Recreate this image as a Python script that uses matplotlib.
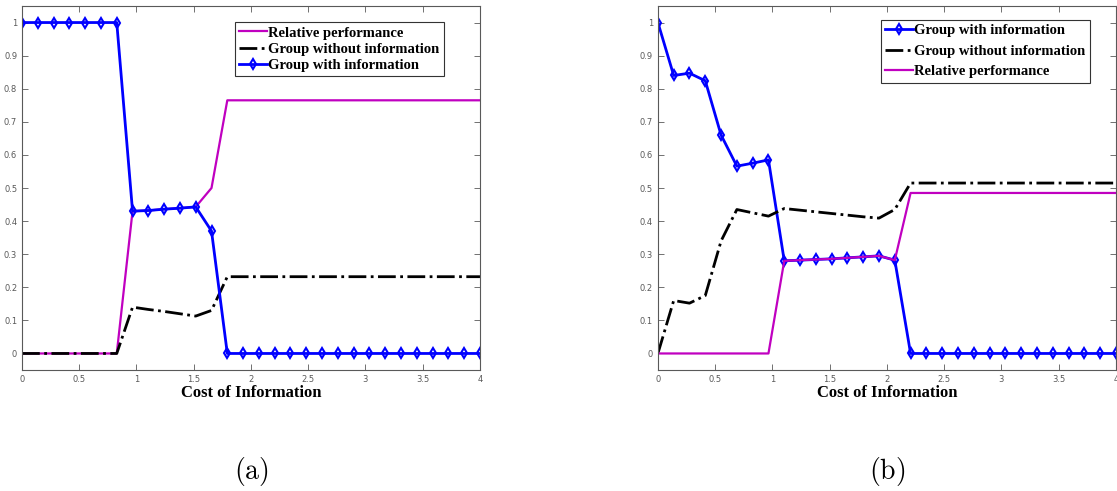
import numpy as np
import matplotlib.pyplot as plt

plt.rcParams['mathtext.fontset'] = 'cm'

# cost of information, 30 samples on [0, 4]
cost = np.linspace(0, 4, 30)

# panel (a)
a_with = [1, 1, 1, 1, 1, 1, 1, 0.43, 0.432, 0.436, 0.439, 0.443, 0.37] + [0] * 17
a_without = [0, 0, 0, 0, 0, 0, 0, 0.14, 0.133, 0.127, 0.12, 0.113, 0.13] + [0.232] * 17
a_rel = [0, 0, 0, 0, 0, 0, 0, 0.43, 0.432, 0.436, 0.439, 0.443, 0.5] + [0.765] * 17

# panel (b)
b_with = [1, 0.84, 0.847, 0.824, 0.66, 0.566, 0.575, 0.585, 0.28, 0.282, 0.284,
          0.286, 0.289, 0.292, 0.295, 0.282] + [0] * 14
b_without = [0, 0.16, 0.152, 0.175, 0.34, 0.435, 0.425, 0.415, 0.438, 0.433, 0.428,
             0.423, 0.418, 0.413, 0.409, 0.435] + [0.515] * 14
b_rel = [0, 0, 0, 0, 0, 0, 0, 0, 0.28, 0.282, 0.284,
         0.286, 0.289, 0.292, 0.295, 0.282] + [0.485] * 14

xticks = [0, 0.5, 1, 1.5, 2, 2.5, 3, 3.5, 4]
yticks = [0, 0.1, 0.2, 0.3, 0.4, 0.5, 0.6, 0.7, 0.8, 0.9, 1]

blue = '#0000FF'
mag = '#C000C0'
serif = ['Liberation Serif', 'DejaVu Serif']

fig = plt.figure(figsize=(11.17, 4.91), dpi=100)
ax1 = fig.add_axes([0.0197, 0.2464, 0.41, 0.7414])
ax2 = fig.add_axes([0.589, 0.2464, 0.41, 0.7414])


def plot_with(ax, y):
    ax.plot(cost, y, color=blue, lw=2, marker='d', ms=5, mfc='none', mew=1.5,
            label='Group with information')


def plot_without(ax, y):
    ax.plot(cost, y, color='black', lw=2, ls='-.', label='Group without information')


def plot_rel(ax, y):
    ax.plot(cost, y, color=mag, lw=1.6, label='Relative performance')


plot_rel(ax1, a_rel)
plot_without(ax1, a_without)
plot_with(ax1, a_with)

plot_with(ax2, b_with)
plot_without(ax2, b_without)
plot_rel(ax2, b_rel)

for ax, cap, spacing, anchor in [(ax1, '(a)', 0.2, (0.921, 0.956)),
                                 (ax2, '(b)', 0.5, (0.943, 0.962))]:
    ax.set_xlim(0, 4)
    ax.set_ylim(-0.05, 1.05)
    ax.set_xticks(xticks)
    ax.set_xticklabels([f'{t:g}' for t in xticks])
    ax.set_yticks(yticks)
    ax.set_yticklabels([f'{t:g}' for t in yticks])
    ax.tick_params(direction='in', top=True, right=True, labelsize=6,
                   labelcolor='0.35', color='0.35', length=4, width=0.6)
    for s in ax.spines.values():
        s.set_color('0.35')
        s.set_linewidth(0.8)
    ax.set_xlabel('Cost of Information', fontsize=12, fontweight='bold',
                  family=serif, labelpad=1)
    leg = ax.legend(loc='upper right', bbox_to_anchor=anchor, numpoints=1,
                    prop={'family': serif, 'weight': 'bold', 'size': 10.5},
                    handlelength=1.9, handletextpad=0.1, labelspacing=spacing,
                    borderpad=0.3, borderaxespad=0, fancybox=False, framealpha=1)
    leg.get_frame().set_edgecolor('0.2')
    leg.get_frame().set_linewidth(0.8)
    ax.text(0.5, -0.28, r'$\mathrm{' + cap + '}$', transform=ax.transAxes,
            ha='center', va='center', fontsize=20)

plt.savefig('out.png', dpi=100)
